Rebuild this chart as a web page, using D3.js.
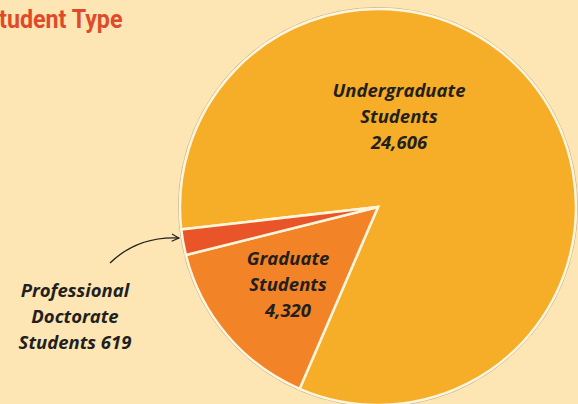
<!DOCTYPE html>
<html lang="en">
<head>
    <meta charset="UTF-8">
    <title>Student Type</title>
    <script src="https://d3js.org/d3.v7.min.js"></script>
    <style>
        body { margin: 0; background: #fde6b3; }
        .title {
            font-family: "Roboto", "Liberation Sans", sans-serif;
            font-weight: bold;
            font-size: 25px;
            fill: #df4a2a;
        }
        .label {
            font-family: "Open Sans", "DejaVu Sans", sans-serif;
            font-weight: bold;
            font-style: italic;
            font-size: 18.5px;
            fill: #231f20;
        }
    </style>
</head>
<body>
    <svg width="578" height="404" id="pie"></svg>
    <script>
        // Data
        const categories = ["Undergraduate Students", "Graduate Students", "Professional Doctorate Students"];
        const counts = [24606, 4320, 619];
        const colors = ["#f6ad27", "#f28427", "#ea5429"];

        const width = 578, height = 404;
        const cx = 378, cy = 207, radius = 198;

        const svg = d3.select("#pie")
            .attr("width", width)
            .attr("height", height);

        svg.append("rect")
            .attr("width", width)
            .attr("height", height)
            .attr("fill", "#fde6b3");

        // Title, cut at the left edge like the original (condensed)
        const title = svg.append("g")
            .attr("transform", "translate(0,28) scale(0.93,1)");
        const tt = title.append("text")
            .attr("class", "title")
            .text("Student Type");
        tt.attr("x", -tt.node().getSubStringLength(0, 1) - 1);

        const start = -96.5 * Math.PI / 180;
        const pie = d3.pie()
            .sort(null)
            .value(d => d)
            .startAngle(start)
            .endAngle(start + 2 * Math.PI);

        const arc = d3.arc().innerRadius(0).outerRadius(radius);

        const g = svg.append("g")
            .attr("transform", `translate(${cx},${cy})`);

        // soft shadow ring
        g.append("circle")
            .attr("r", radius + 1.5)
            .attr("fill", "none")
            .attr("stroke", "#c9b58f")
            .attr("stroke-width", 1);

        g.selectAll("path.slice")
            .data(pie(counts))
            .enter().append("path")
            .attr("class", "slice")
            .attr("d", arc)
            .attr("fill", (d, i) => colors[i])
            .attr("stroke", "#fdf5dc")
            .attr("stroke-width", 2.5)
            .attr("stroke-linejoin", "miter");

        // Labels
        const labels = [
            { lines: ["Undergraduate", "Students", "24,606"], x: 399, y: 97 },
            { lines: ["Graduate", "Students", "4,320"], x: 288, y: 265 },
            { lines: ["Professional", "Doctorate", "Students 619"], x: 75, y: 297 }
        ];
        labels.forEach(l => {
            const t = svg.append("text")
                .attr("class", "label")
                .attr("text-anchor", "middle")
                .attr("x", l.x)
                .attr("y", l.y);
            l.lines.forEach((s, i) => {
                t.append("tspan")
                    .attr("x", l.x)
                    .attr("dy", i === 0 ? 0 : 26)
                    .text(s);
            });
        });

        // Arrow pointing to the small slice
        svg.append("defs").append("marker")
            .attr("id", "head")
            .attr("viewBox", "0 0 10 10")
            .attr("refX", 9)
            .attr("refY", 5)
            .attr("markerWidth", 9)
            .attr("markerHeight", 9)
            .attr("markerUnits", "userSpaceOnUse")
            .attr("orient", "auto")
            .append("path")
            .attr("d", "M1,1 L9,5 L1,9")
            .attr("fill", "none")
            .attr("stroke", "#231f20")
            .attr("stroke-width", 1.3);

        const p = d3.path();
        p.moveTo(110, 263);
        p.quadraticCurveTo(138, 236, 179, 238);
        svg.append("path")
            .attr("d", p.toString())
            .attr("fill", "none")
            .attr("stroke", "#231f20")
            .attr("stroke-width", 1.3)
            .attr("marker-end", "url(#head)");
    </script>
</body>
</html>
